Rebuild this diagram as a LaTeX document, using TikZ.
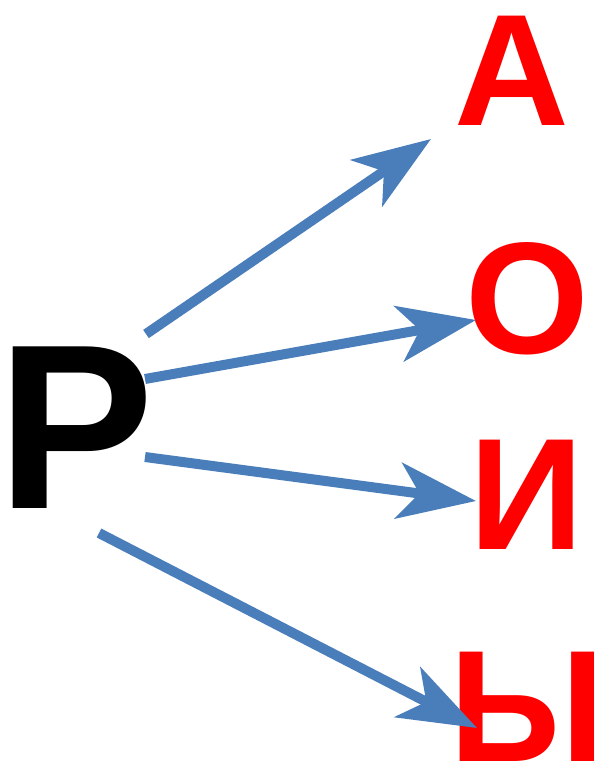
\documentclass[tikz,border=0pt]{standalone}
\usepackage{fontspec}
\setmainfont{Liberation Sans}
\usetikzlibrary{arrows.meta}
\definecolor{arrblue}{HTML}{4A7EBB}
\tikzset{big/.style={inner sep=0pt,anchor=base,font=\bfseries\fontsize{235}{235}\selectfont},vow/.style={inner sep=0pt,anchor=base,text=red,font=\bfseries\fontsize{159}{159}\selectfont},arr/.style={arrblue,line width=10pt,-{Stealth[length=78pt,width=56pt,inset=21pt]}}}

\begin{document}
\begin{tikzpicture}[x=1pt,y=-1pt]
\useasboundingbox(0,0)rectangle(598,762);
\node[big](R)at(76,508){Р};
\node[vow](A)at(511.5,126){А};\node[vow](O)at(527.5,353){О};
\node[vow](I)at(527,549){И};\node[vow](Y)at(527,761){Ы};
\coordinate(s1)at(146,334);\coordinate(t1)at(431,139);
\coordinate(s2)at(145,379);\coordinate(t2)at(476,320);
\coordinate(s3)at(145,457);\coordinate(t3)at(476,501);
\coordinate(s4)at(99,533);\coordinate(t4)at(477,728);
\foreach\a/\b in{s1/t1,s2/t2,s3/t3,s4/t4}\draw[arr](\a)--(\b);
\end{tikzpicture}
\end{document}
